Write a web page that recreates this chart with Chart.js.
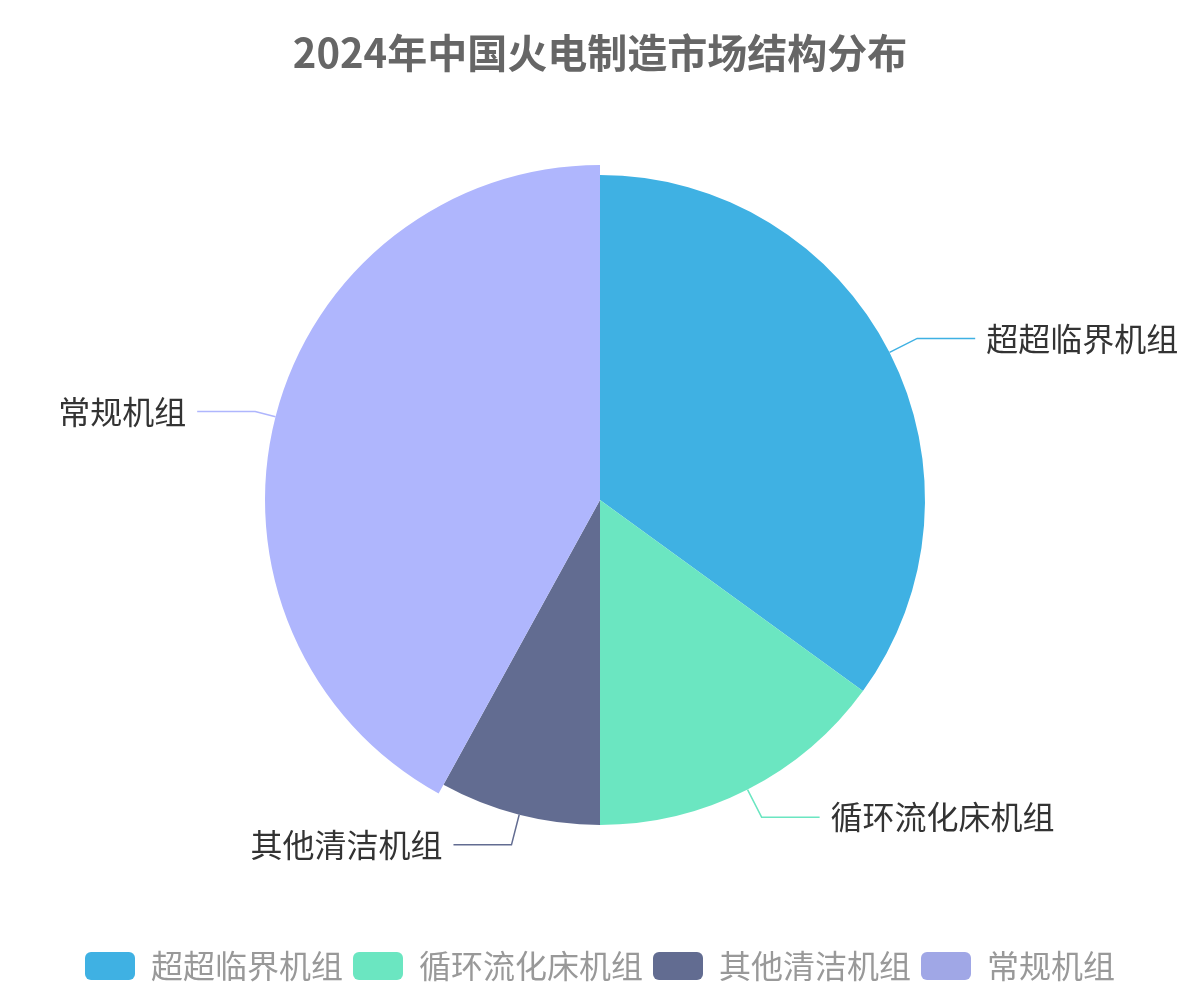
<!DOCTYPE html>
<html>
<head>
<meta charset="utf-8">
<script src="https://cdn.jsdelivr.net/npm/chart.js@4/dist/chart.umd.min.js"></script>
<style>
  body { margin: 0; background: #fff; }
  canvas { display: block; }
</style>
</head>
<body>
<canvas id="pieChart" width="1200" height="1000"></canvas>
<script>
const categories = ['超超临界机组', '循环流化床机组', '其他清洁机组', '常规机组'];
const shares = [35, 15, 8, 42];
const legendColors = ['#3fb1e3', '#6be6c1', '#626c91', '#a0a7e6'];
// the last slice is shown in its highlighted (emphasis) state
const sliceColors = ['#3fb1e3', '#6be6c1', '#626c91', '#afb6fd'];
const highlightIndex = 3;

const fontFamily = '"Noto Sans CJK SC", "Noto Sans", sans-serif';

// enlarge the highlighted slice a little, like a hover emphasis
const emphasisPlugin = {
    id: 'emphasis',
    afterDatasetsUpdate(chart) {
        const meta = chart.getDatasetMeta(0);
        const arc = meta.data[highlightIndex];
        if (arc) arc.outerRadius = meta.controller.outerRadius + 10;
    }
};

// outside labels with a bent leader line
const outsideLabels = {
    id: 'outsideLabels',
    afterDatasetsDraw(chart) {
        const ctx = chart.ctx;
        const meta = chart.getDatasetMeta(0);
        const baseRadius = meta.controller.outerRadius;
        ctx.save();
        ctx.font = '32px ' + fontFamily;
        ctx.textBaseline = 'middle';
        meta.data.forEach((arc, i) => {
            const p = arc.getProps(['x', 'y', 'startAngle', 'endAngle', 'outerRadius']);
            const mid = (p.startAngle + p.endAngle) / 2;
            const cos = Math.cos(mid), sin = Math.sin(mid);
            const x0 = p.x + cos * p.outerRadius, y0 = p.y + sin * p.outerRadius;
            const x1 = p.x + cos * (baseRadius + 31), y1 = p.y + sin * (baseRadius + 31);
            const dir = cos >= 0 ? 1 : -1;
            const x2 = x1 + dir * 58;
            ctx.strokeStyle = sliceColors[i];
            ctx.lineWidth = 1.5;
            ctx.beginPath();
            ctx.moveTo(x0, y0);
            ctx.lineTo(x1, y1);
            ctx.lineTo(x2, y1);
            ctx.stroke();
            ctx.fillStyle = '#333';
            ctx.textAlign = dir > 0 ? 'left' : 'right';
            ctx.fillText(categories[i], x2 + dir * 11, y1);
        });
        ctx.restore();
    }
};

const pieConfig = {
    type: 'pie',
    data: {
        labels: categories,
        datasets: [{
            data: shares,
            backgroundColor: sliceColors,
            borderWidth: 0,
            hoverOffset: 0,
            radius: 325
        }]
    },
    options: {
        responsive: false,
        animation: false,
        events: [],
        layout: { padding: { top: 0, left: 0, right: 0, bottom: 8 } },
        plugins: {
            title: {
                display: true,
                text: '2024年中国火电制造市场结构分布',
                color: '#666',
                font: { family: fontFamily, size: 40, weight: 'bold', lineHeight: 0.3 },
                padding: { top: 47, bottom: 1 }
            },
            legend: {
                position: 'bottom',
                labels: {
                    color: '#999',
                    font: { family: fontFamily, size: 32 },
                    boxWidth: 50,
                    boxHeight: 28,
                    padding: 10,
                    useBorderRadius: true,
                    borderRadius: 6,
                    generateLabels(chart) {
                        return categories.map((name, i) => ({
                            text: name,
                            fillStyle: legendColors[i],
                            strokeStyle: legendColors[i],
                            lineWidth: 0,
                            borderRadius: 6,
                            fontColor: '#999',
                            hidden: false,
                            index: i
                        }));
                    }
                }
            },
            tooltip: { enabled: false }
        }
    },
    plugins: [emphasisPlugin, outsideLabels]
};

let pieChart = new Chart(document.getElementById('pieChart'), pieConfig);
</script>
</body>
</html>
